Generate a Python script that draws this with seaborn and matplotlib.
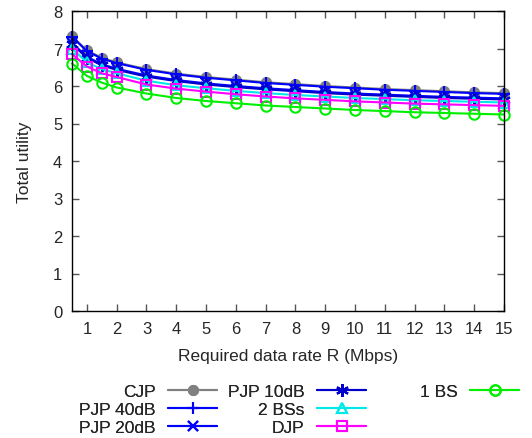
import matplotlib
matplotlib.use("Agg")
import matplotlib.pyplot as plt
import seaborn as sns
import pandas as pd

rates = [0.5, 1, 1.5, 2, 3, 4, 5, 6, 7, 8, 9, 10, 11, 12, 13, 14, 15]
cjp = [7.33, 6.95, 6.75, 6.63, 6.45, 6.33, 6.24, 6.17, 6.10, 6.05, 6.00, 5.96, 5.92, 5.89, 5.86, 5.83, 5.81]
pjp40 = [7.31, 6.93, 6.73, 6.61, 6.43, 6.31, 6.22, 6.15, 6.08, 6.03, 5.98, 5.94, 5.90, 5.87, 5.84, 5.81, 5.79]
pjp20 = [7.15, 6.78, 6.58, 6.46, 6.28, 6.16, 6.07, 6.00, 5.94, 5.89, 5.84, 5.80, 5.77, 5.74, 5.71, 5.69, 5.67]
pjp10 = [7.12, 6.75, 6.55, 6.43, 6.25, 6.13, 6.04, 5.97, 5.91, 5.86, 5.81, 5.77, 5.74, 5.71, 5.68, 5.66, 5.64]
bs2 = [7.00, 6.63, 6.45, 6.34, 6.14, 6.02, 5.94, 5.87, 5.81, 5.76, 5.72, 5.68, 5.65, 5.62, 5.60, 5.58, 5.56]
djp = [6.85, 6.52, 6.34, 6.24, 6.04, 5.93, 5.85, 5.78, 5.72, 5.67, 5.63, 5.59, 5.56, 5.53, 5.51, 5.49, 5.47]
bs1 = [6.60, 6.27, 6.09, 5.96, 5.80, 5.68, 5.60, 5.54, 5.48, 5.44, 5.40, 5.36, 5.33, 5.30, 5.28, 5.26, 5.24]

names = ["CJP", "PJP 40dB", "PJP 20dB", "PJP 10dB", "2 BSs", "DJP", "1 BS"]
series = [cjp, pjp40, pjp20, pjp10, bs2, djp, bs1]
xticks = list(range(1, 16))
yticks = list(range(0, 9))

colors = ["#808080", "#0000ff", "#0000ff", "#0000cc", "#00e8e8", "#ff00ff", "#00ee00"]
markers = ["o", "+", "x", (6, 2, 0), "^", "s", "o"]
filled = [True, True, True, True, False, False, False]
msizes = [6.5, 9, 7, 9, 7, 7, 7.5]

sns.set_style("ticks")
plt.rcParams["font.family"] = ["Liberation Sans", "DejaVu Sans"]
plt.rcParams["font.size"] = 12

df = pd.DataFrame({
    "rate": rates * len(names),
    "utility": sum(series, []),
    "series": [n for n in names for _ in rates],
})

fig = plt.figure(figsize=(5.32, 4.39), dpi=100)
ax = fig.add_axes([72 / 532, 1 - 312 / 439, (504 - 72) / 532, (312 - 12) / 439])

for n, c, m, f, ms in zip(names, colors, markers, filled, msizes):
    sub = df[df["series"] == n]
    sns.lineplot(data=sub, x="rate", y="utility", ax=ax, color=c, marker=m,
                 markersize=ms, lw=1.5, label=n, clip_on=False,
                 markerfacecolor=(c if f else "none"), markeredgecolor=c,
                 markeredgewidth=1.5)

ax.set_xlim(0.5, 15)
ax.set_ylim(0, 8)
ax.set_xticks(xticks)
ax.set_yticks(yticks)
ax.tick_params(direction="in", top=True, right=True, length=5, width=1,
               labelsize=12, color="#555555", pad=7)
for s in ax.spines.values():
    s.set_linewidth(1)
    s.set_color("black")
ax.set_xlabel("Required data rate R (Mbps)", fontsize=12.5, labelpad=9)
ax.set_ylabel("Total utility", fontsize=12.5, labelpad=15)

handles, labels = ax.get_legend_handles_labels()
ax.get_legend().remove()
hmap = dict(zip(labels, handles))
cols = [["CJP", "PJP 40dB", "PJP 20dB"], ["PJP 10dB", "2 BSs", "DJP"], ["1 BS"]]
rights = [217 / 532, 366 / 532, 519 / 532]
for col, r in zip(cols, rights):
    leg = fig.legend([hmap[l] for l in col], col, loc="upper right",
                     bbox_to_anchor=(r, 1 - 385 / 439), frameon=False,
                     markerfirst=False, borderpad=0, borderaxespad=0,
                     handlelength=2.8, handletextpad=0.75, labelspacing=0.17,
                     fontsize=12.5)
    fig.add_artist(leg)

fig.savefig("out.png", dpi=100)
